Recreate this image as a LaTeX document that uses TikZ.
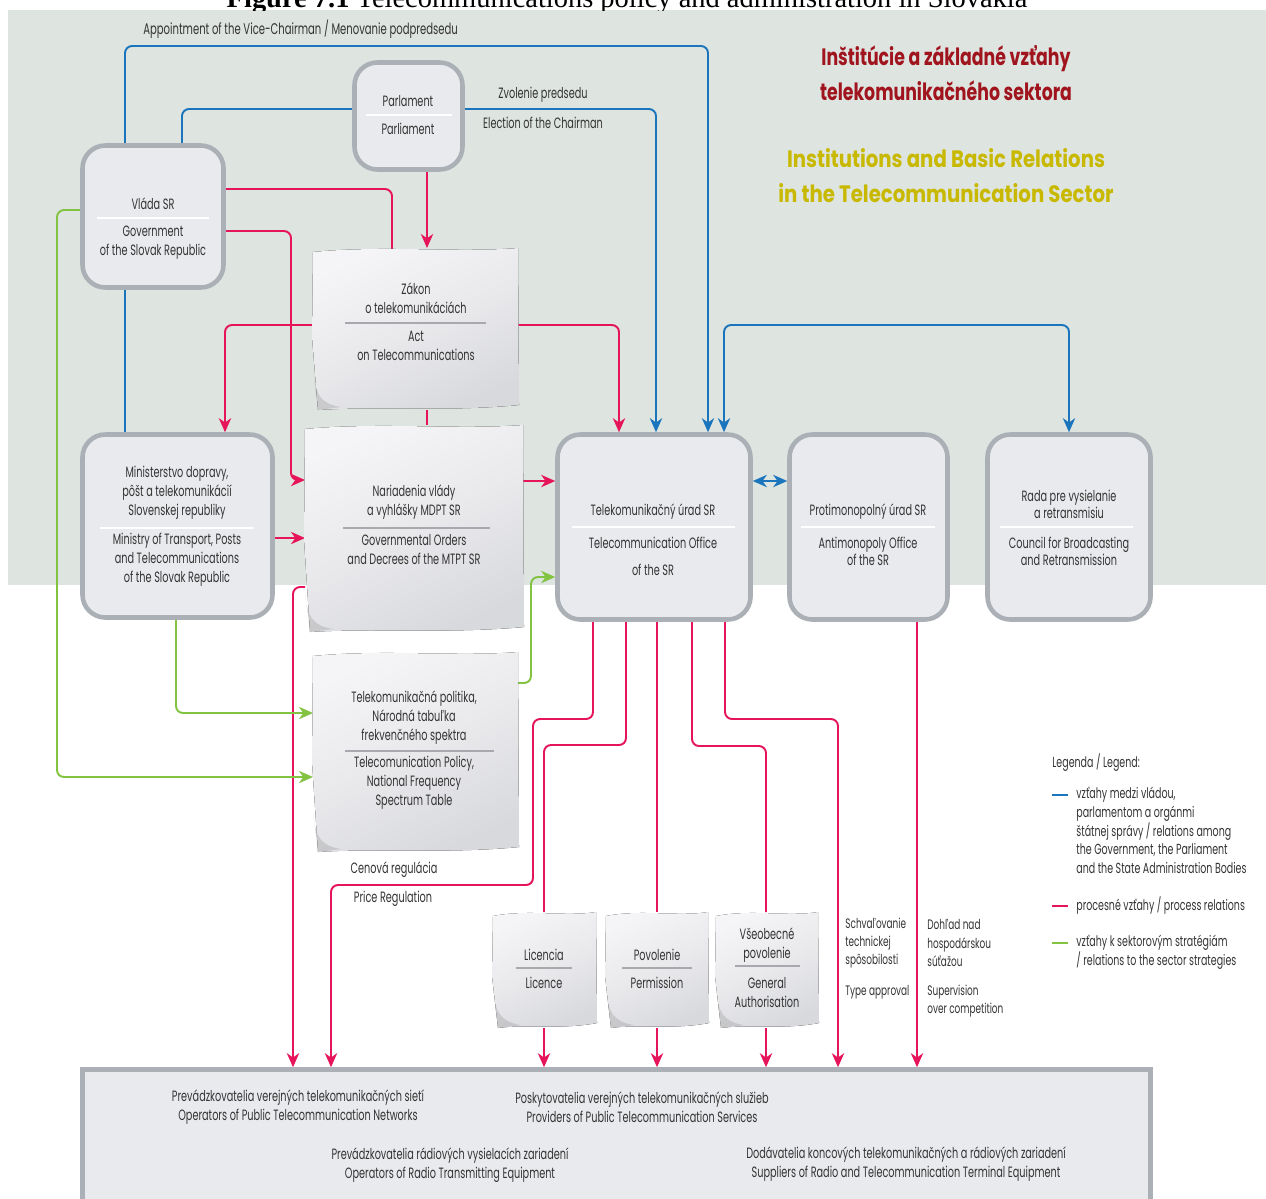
\documentclass[tikz,border=0pt]{standalone}
\usepackage{fontspec}
\setmainfont{Liberation Serif}
\newfontfamily\df[FakeStretch=0.65]{Poppins}
\newfontfamily\tfr[FakeStretch=0.73]{Poppins}
\newfontfamily\tfy[FakeStretch=0.83]{Poppins}
\usetikzlibrary{arrows.meta,fit,calc}
\definecolor{band}{HTML}{DEE4E0}
\definecolor{boxfill}{HTML}{E9EAED}
\definecolor{boxgray}{HTML}{AAB0B5}
\definecolor{lblue}{HTML}{1B75BC}
\definecolor{lpink}{HTML}{E6145A}
\definecolor{lgreen}{HTML}{82C341}
\definecolor{tred}{HTML}{A0141E}
\definecolor{tyel}{HTML}{C8B900}
\definecolor{txtcol}{HTML}{333333}
\definecolor{paperT}{HTML}{F5F5F7}
\definecolor{paperM}{HTML}{E9E9EC}
\definecolor{paperB}{HTML}{D8D9DD}
\definecolor{sepgray}{HTML}{A8A8AE}
\pgfdeclarelayer{bg}\pgfdeclarelayer{lines}\pgfsetlayers{bg,lines,main}
\tikzset{
  ibox/.style={draw=boxgray, line width=2.6pt, fill=boxfill, rounded corners=13pt, inner sep=0pt},
  lbl/.style={font=\df\fontsize{8.5}{10.8}\selectfont, text=txtcol, align=center, inner sep=0pt},
  sml/.style={font=\df\fontsize{7.8}{10.3}\selectfont, text=txtcol, align=left, inner sep=0pt, anchor=west},
  leg/.style={font=\df\fontsize{8.3}{10.6}\selectfont, text=txtcol, align=left, inner sep=0pt, anchor=west},
  conn/.style={line width=1.1pt, rounded corners=4pt},
  bline/.style={conn, draw=lblue},
  pline/.style={conn, draw=lpink},
  gline/.style={conn, draw=lgreen},
  arr/.style={-{Stealth[length=8pt,width=7pt,inset=2.5pt]}},
  darr/.style={{Stealth[length=8pt,width=7pt,inset=2.5pt]}-{Stealth[length=8pt,width=7pt,inset=2.5pt]}},
  paperfill/.style={top color=paperT, bottom color=paperB, middle color=paperM, shading angle=25},
  sepw/.style={draw=white, line width=1pt},
  sepg/.style={draw=sepgray, line width=0.6pt},
}
\newcommand\paperdraw[5]{%
  \fill[paperfill] (#2,#3+4) .. controls (#2+0.35*#4-0.35*#2,#3-3) and (#2+0.7*#4-0.7*#2,#3+5) .. (#4,#3)
    -- (#4+1,#5-5) .. controls (#2+0.65*#4-0.65*#2,#5+2) and (#2+0.3*#4-0.3*#2,#5-4) .. (#2+5,#5)
    -- (#2-1,#3+0.55*#5-0.55*#3) -- cycle;
  \fill[gray, opacity=0.25] (#2,#5-40) .. controls (#2+2,#5-15) and (#2+8,#5-6) .. (#2+28,#5-3) -- (#2+5,#5) -- cycle;
  \node[fit={(#2,#3)(#4,#5)}, inner sep=0pt, outer sep=0pt] (#1) {};
}
\begin{document}
\begin{tikzpicture}[x=0.02cm, y=-0.02cm]
\useasboundingbox (0,0) rectangle (1266,1198);
\begin{pgfonlayer}{bg}
\fill[white] (0,0) rectangle (1266,1198);
\fill[band] (8,10) rectangle (1266,585);
\end{pgfonlayer}
% caption (cut at top, as in the reference)
\begin{scope}
\clip (0,0) rectangle (1266,10);
\node[font=\fontsize{16.2}{17}\selectfont, anchor=base, inner sep=0pt] (cap) at (627,7) {\textbf{Figure 7.1} Telecommunications policy and administration in Slovakia};
\end{scope}
% titles
\node[font=\tfr\bfseries\fontsize{13.5}{19.5}\selectfont, text=tred, align=center, inner sep=0pt] (title1) at (946,73) {Inštitúcie a základné vzťahy\\telekomunikačného sektora};
\node[font=\tfy\bfseries\fontsize{13.5}{19.8}\selectfont, text=tyel, align=center, inner sep=0pt] (title2) at (946,175.5) {Institutions and Basic Relations\\in the Telecommunication Sector};
% boxes
\node[ibox, fit={(354.5,62.5)(462.5,169.5)}] (parl) {};
\node[ibox, fit={(82.5,145.5)(223.5,287.5)}] (vlada) {};
\node[ibox, fit={(82.5,434.5)(272.5,617.5)}] (min) {};
\node[ibox, fit={(557.5,434.5)(750.5,619.5)}] (office) {};
\node[ibox, fit={(789.5,434.5)(947.5,619.5)}] (anti) {};
\node[ibox, fit={(987.5,434.5)(1150.5,619.5)}] (rada) {};
\node[draw=boxgray, line width=2.6pt, fill=boxfill, inner sep=0pt, fit={(82.5,1069.5)(1150.5,1240)}] (ops) {};
% papers
\paperdraw{zakon}{313}{248}{518}{410}
\paperdraw{nar}{305}{425}{523}{632}
\paperdraw{pol}{313}{652}{518}{852}
\paperdraw{lic}{493}{912}{596}{1028}
\paperdraw{pov}{606}{912}{708}{1028}
\paperdraw{vse}{716}{912}{818}{1028}
% box texts
\node[lbl] (tparl1) at (408,101) {Parlament};
\draw[sepw] (366,115) -- (452,115);
\node[lbl] (tparl2) at (408,129) {Parliament};
\node[lbl] (tvl1) at (153,204) {Vláda SR};
\draw[sepw] (97,218) -- (209,218);
\node[lbl] (tvl2) at (153,242.5) {Government\\of the Slovak Republic};
\node[lbl] (tza1) at (416,298.5) {Zákon\\o telekomunikáciách};
\draw[sepg] (345,323) -- (486,323);
\node[lbl] (tza2) at (416,345.5) {Act\\on Telecommunications};
\node[lbl] (tmi1) at (177,492.5) {Ministerstvo dopravy,\\pôšt a telekomunikácií\\Slovenskej republiky};
\draw[sepw] (100,528) -- (253,528);
\node[lbl] (tmi2) at (177,559.5) {Ministry of Transport, Posts\\and Telecommunications\\of the Slovak Republic};
\node[lbl] (tna1) at (414,502.5) {Nariadenia vlády\\a vyhlášky MDPT SR};
\draw[sepg] (343,528) -- (490,528);
\node[lbl] (tna2) at (414,550) {Governmental Orders\\and Decrees of the MTPT SR};
\node[lbl] (tpo1) at (414,717.5) {Telekomunikačná politika,\\Národná tabuľka\\frekvenčného spektra};
\draw[sepg] (345,751) -- (494,751);
\node[lbl] (tpo2) at (414,783) {Telecomunication Policy,\\National Frequency\\Spectrum Table};
\node[lbl] (tof1) at (653,512) {Telekomunikačný úrad SR};
\draw[sepw] (572,527) -- (735,527);
\node[lbl] (tof2) at (653,543) {Telecommunication Office};
\node[lbl] (tof3) at (653,570) {of the SR};
\node[lbl] (tan1) at (868,512) {Protimonopolný úrad SR};
\draw[sepw] (801,527) -- (935,527);
\node[lbl] (tan2) at (868,551.5) {Antimonopoly Office\\[-1pt]of the SR};
\node[lbl] (tra1) at (1069,504) {Rada pre vysielanie\\[-1pt]a retransmisiu};
\draw[sepw] (1000,527) -- (1133,527);
\node[lbl] (tra2) at (1069,551.5) {Council for Broadcasting\\[-1pt]and Retransmission};
\node[lbl] (tli1) at (544,955) {Licencia};
\draw[sepg] (516,968) -- (572,968);
\node[lbl] (tli2) at (544,983) {Licence};
\node[lbl] (tpv1) at (657,955) {Povolenie};
\draw[sepg] (622,968) -- (692,968);
\node[lbl] (tpv2) at (657,983) {Permission};
\node[lbl] (tvs1) at (767,945.5) {Všeobecné\\povolenie};
\draw[sepg] (735,966) -- (800,966);
\node[lbl] (tvs2) at (767,992.5) {General\\Authorisation};
% bottom texts
\node[lbl] (top1) at (298,1107.5) {Prevádzkovatelia verejných telekomunikačných sietí\\Operators of  Public Telecommunication Networks};
\node[lbl] (top2) at (642,1107.5) {Poskytovatelia verejných telekomunikačných služieb\\Providers of Public Telecommunication Services};
\node[lbl] (top3) at (450,1165) {Prevádzkovatelia rádiových vysielacích zariadení\\Operators of Radio Transmitting Equipment};
\node[lbl] (top4) at (906,1164) {Dodávatelia koncových  telekomunikačných a rádiových zariadení\\Suppliers of Radio and Telecommunication Terminal Equipment};
% connector labels
\node[leg, font=\df\fontsize{8.8}{10.6}\selectfont] (lapp) at (143,29) {Appointment of the Vice-Chairman / Menovanie podpredsedu};
\node[lbl] (lzv) at (543,95) {Zvolenie predsedu};
\node[lbl] (lel) at (543,123) {Election of the Chairman};
\node[lbl] (lce) at (394,870) {Cenová regulácia};
\node[lbl] (lpr) at (393,899) {Price Regulation};
\node[sml] (lsch) at (845,943) {Schvaľovanie\\technickej\\spôsobilosti};
\node[sml] (lty) at (845,992) {Type approval};
\node[sml] (ldo) at (927,943) {Dohľad nad\\hospodárskou\\súťažou};
\node[sml] (lsu) at (927,1001) {Supervision\\over competition};
% legend
\node[leg] (lg0) at (1052,763) {Legenda / Legend:};
\draw[line width=1.1pt, lblue] (1052,795) -- (1068,795);
\node[leg] (lg1) at (1076,830.5) {vzťahy medzi vládou,\\parlamentom a orgánmi\\štátnej správy / relations among\\the Government, the Parliament\\and the State Administration Bodies};
\draw[line width=1.1pt, lpink] (1052,906) -- (1068,906);
\node[leg] (lg2) at (1076,906) {procesné vzťahy / process relations};
\draw[line width=1.1pt, lgreen] (1052,943) -- (1068,943);
\node[leg] (lg3) at (1076,952.5) {vzťahy k sektorovým stratégiám\\/ relations to the sector strategies};
% connectors
\begin{pgfonlayer}{lines}
\draw[bline, arr] (vlada.north -| 125,0) |- (708,46) -- (office.north -| 708,0);
\draw[bline] (vlada.north -| 182,0) |- (parl.west |- 0,109);
\draw[bline, arr] (parl.east |- 0,109) -| (office.north -| 656,0);
\draw[bline] (vlada.south -| 125,0) -- (min.north -| 125,0);
\draw[bline, darr] (office.north -| 724,0) |- (rada.north |- 0,325) -- (rada.north);
\draw[bline, darr] (office.east |- 0,481) -- (anti.west |- 0,481);
\draw[pline, arr] (parl.south -| 427,0) -- (zakon.north -| 427,0);
\draw[pline] (vlada.east |- 0,189) -| ($(zakon.north -| 392,0)+(0,20)$);
\draw[pline, arr] (vlada.east |- 0,231) -| (291,480) -- (nar.west |- 0,480);
\draw[pline, arr] (zakon.west |- 0,325) -| (min.north -| 225,0);
\draw[pline, arr] (zakon.east |- 0,325) -| (office.north -| 619,0);
\draw[pline] (zakon.south -| 427,0) -- (nar.north -| 427,0);
\draw[pline, arr] (min.east |- 0,538) -- (nar.west |- 0,538);
\draw[pline, arr] (nar.east |- 0,481) -- (office.west |- 0,481);
\draw[pline, arr] (nar.west |- 0,587) -| (ops.north -| 293,0);
\draw[pline, arr] (office.south -| 593,0) |- (533,719) |- (331,885) -- (ops.north -| 331,0);
\draw[pline] (office.south -| 626,0) |- (544,745) -- (lic.north -| 544,0);
\draw[pline, arr] (lic.south -| 544,0) -- (ops.north -| 544,0);
\draw[pline] (office.south -| 657,0) -- (pov.north -| 657,0);
\draw[pline, arr] (pov.south -| 657,0) -- (ops.north -| 657,0);
\draw[pline] (office.south -| 692,0) |- (766,746) -- (vse.north -| 766,0);
\draw[pline, arr] (vse.south -| 766,0) -- (ops.north -| 766,0);
\draw[pline, arr] (office.south -| 725,0) |- (838,719) -- (ops.north -| 838,0);
\draw[pline, arr] (anti.south -| 917,0) -- (ops.north -| 917,0);
\draw[gline, arr] (vlada.west |- 0,210) -| (57,777) -- (pol.west |- 0,777);
\draw[gline, arr] (min.south -| 176,0) |- (pol.west |- 0,713);
\draw[gline, arr] (pol.east |- 0,683) -| (531,577) -- (office.west |- 0,577);
\end{pgfonlayer}
\end{tikzpicture}
\end{document}
